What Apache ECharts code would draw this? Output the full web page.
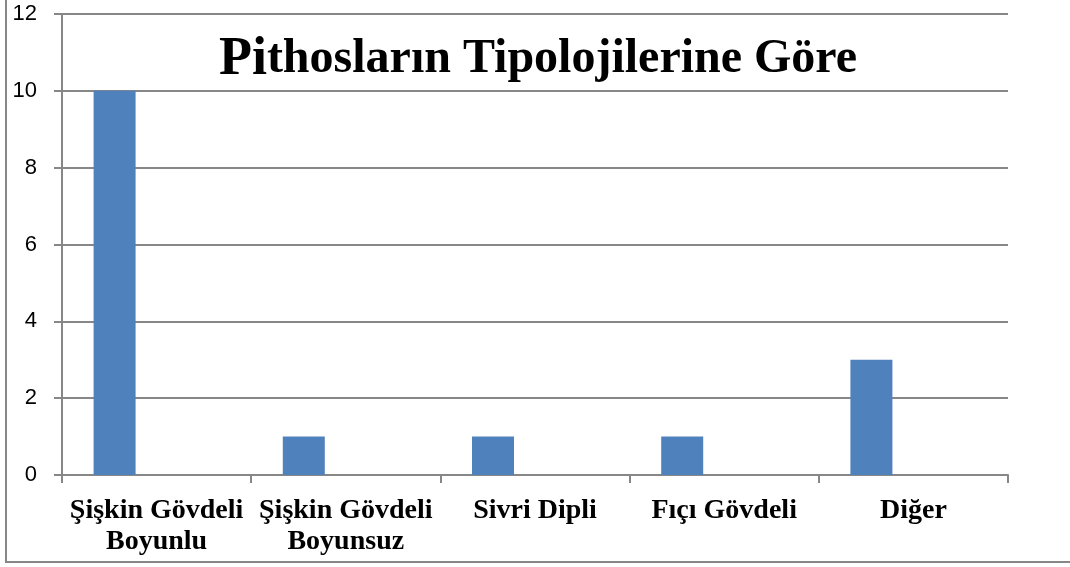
<!DOCTYPE html>
<html>
<head>
<meta charset="utf-8">
<script src="https://cdn.jsdelivr.net/npm/echarts@6/dist/echarts.min.js"></script>
<style>
  html, body { margin: 0; padding: 0; background: #fff; }
  #chart { width: 1070px; height: 567px; }
</style>
</head>
<body>
<div id="chart"></div>
<script>
// kategoriler ve değerler
var categories = ['Şişkin Gövdeli\nBoyunlu', 'Şişkin Gövdeli\nBoyunsuz', 'Sivri Dipli', 'Fıçı Gövdeli', 'Diğer'];
var series1 = [10, 1, 1, 1, 3];
var series2 = [0, 0, 0, 0, 0];
var series3 = [0, 0, 0, 0, 0];
var yTicks = [0, 2, 4, 6, 8, 10, 12];

(function () {
  var chartDom = document.getElementById('chart');
  var myChart = echarts.init(chartDom);
  var option;
  var gray = '#878787';

  option = {
    animation: false,
    title: {
      text: '{big|Pi}{norm|thosların Tipolojilerine Göre}',
      left: 533,
      textAlign: 'center',
      top: 28,
      textStyle: {
        rich: {
          big: { fontFamily: 'Liberation Serif', fontWeight: 'bold', fontSize: 54, color: '#000' },
          norm: { fontFamily: 'Liberation Serif', fontWeight: 'bold', fontSize: 48, color: '#000' }
        }
      }
    },
    grid: {
      left: 62,
      right: 62,
      top: 14,
      bottom: 92
    },
    xAxis: {
      type: 'category',
      data: categories,
      axisLine: { lineStyle: { color: gray, width: 2 } },
      axisTick: { show: true, length: 8, lineStyle: { color: gray, width: 2 } },
      axisLabel: {
        interval: 0,
        margin: 20,
        fontFamily: 'Liberation Serif',
        fontWeight: 'bold',
        fontSize: 28,
        lineHeight: 31,
        color: '#000'
      }
    },
    yAxis: {
      type: 'value',
      min: yTicks[0],
      max: yTicks[yTicks.length - 1],
      interval: 2,
      axisLine: { show: true, lineStyle: { color: gray, width: 2 } },
      axisTick: { show: true, length: 8, lineStyle: { color: gray, width: 2 } },
      axisLabel: {
        margin: 25,
        fontFamily: 'Liberation Sans',
        fontSize: 22,
        color: '#000'
      },
      splitLine: { lineStyle: { color: gray, width: 2 } }
    },
    series: [
      {
        type: 'bar',
        data: series1,
        barWidth: 42,
        barGap: 0,
        itemStyle: { color: '#4F81BD' }
      },
      {
        type: 'bar',
        data: series2,
        barWidth: 42,
        barGap: 0,
        itemStyle: { color: '#C0504D' }
      },
      {
        type: 'bar',
        data: series3,
        barWidth: 42,
        barGap: 0,
        itemStyle: { color: '#9BBB59' }
      }
    ],
    // çerçeve
    graphic: [
      {
        type: 'polyline',
        shape: { points: [[6, 0], [6, 562], [1070, 562]] },
        style: { stroke: gray, lineWidth: 2, fill: null }
      }
    ]
  };

  option && myChart.setOption(option);
})();
</script>
</body>
</html>
